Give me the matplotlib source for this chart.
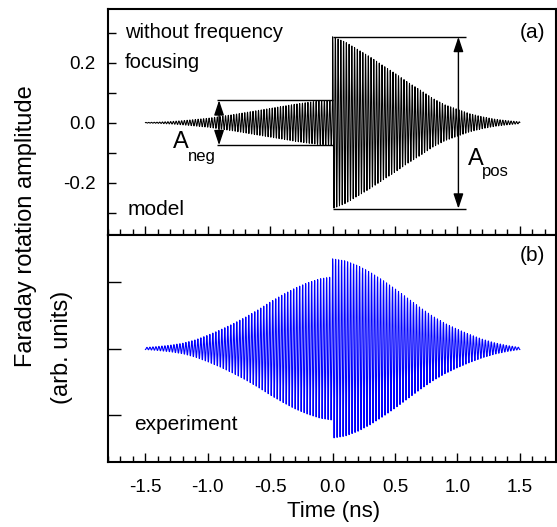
import numpy as np
import matplotlib
matplotlib.use('Agg')
import matplotlib.pyplot as plt
from matplotlib.ticker import MultipleLocator, FormatStrFormatter

plt.rcParams['font.family'] = ['Liberation Sans', 'DejaVu Sans']
plt.rcParams['axes.unicode_minus'] = False

# envelopes every 0.1 ns (before and after the jump at t=0)
t_neg = [-1.5, -1.4, -1.3, -1.2, -1.1, -1.0, -0.9, -0.8, -0.7, -0.6,
         -0.5, -0.4, -0.3, -0.2, -0.1, 0.0]
t_pos = [0.0, 0.1, 0.2, 0.3, 0.4, 0.5, 0.6, 0.7, 0.8, 0.9,
         1.0, 1.1, 1.2, 1.3, 1.4, 1.5]

model_neg = [0.001, 0.002, 0.004, 0.007, 0.011, 0.015, 0.021, 0.027, 0.034, 0.041,
             0.048, 0.055, 0.062, 0.068, 0.073, 0.075]
model_pos = [0.287, 0.270, 0.245, 0.220, 0.192, 0.165, 0.136, 0.110, 0.082, 0.060,
             0.045, 0.030, 0.020, 0.012, 0.007, 0.003]

expt_neg = [0.015, 0.03, 0.05, 0.08, 0.13, 0.20, 0.28, 0.37, 0.47, 0.58,
            0.70, 0.81, 0.91, 0.99, 1.05, 1.08]
expt_pos = [1.35, 1.32, 1.25, 1.15, 1.03, 0.90, 0.76, 0.62, 0.49, 0.38,
            0.29, 0.21, 0.14, 0.085, 0.045, 0.015]

period_model = 0.022  # ns, oscillation period
period_expt = 0.024

x_ticks = [-1.5, -1.0, -0.5, 0.0, 0.5, 1.0, 1.5]


def trace(env_neg, env_pos, period):
    dt = period / 16
    tn = np.arange(-1.5, 0, dt)
    tp = np.arange(0, 1.5 + dt / 2, dt)
    t = np.concatenate([tn, tp])
    env = np.concatenate([np.interp(tn, t_neg, env_neg), np.interp(tp, t_pos, env_pos)])
    return t, env * np.cos(2 * np.pi * t / period)


fig = plt.figure(figsize=(5.57, 5.27), dpi=100)
ax1 = fig.add_axes([108 / 557, 1 - 235 / 527, 448 / 557, 226 / 527])
ax2 = fig.add_axes([108 / 557, 1 - 462 / 527, 448 / 557, 227 / 527])

t, y = trace(model_neg, model_pos, period_model)
ax1.plot(t, y, color='black', lw=0.75)
t, y = trace(expt_neg, expt_pos, period_expt)
ax2.plot(t, y, color='#0000ff', lw=0.8)

for ax in (ax1, ax2):
    ax.set_xlim(-1.8, 1.79)
    ax.set_xticks(x_ticks)
    ax.xaxis.set_minor_locator(MultipleLocator(0.1))
    ax.xaxis.set_major_formatter(FormatStrFormatter('%.1f'))
    ax.tick_params(which='both', direction='in', top=False, right=False, width=1.0,
                   labelsize=13.5, pad=12)
    ax.tick_params(axis='x', which='major', length=6.5)
    ax.tick_params(axis='x', which='minor', length=4)
    for s in ax.spines.values():
        s.set_linewidth(1.5)

ax1.set_ylim(-0.375, 0.38)
ax1.yaxis.set_major_locator(MultipleLocator(0.2))
ax1.yaxis.set_minor_locator(MultipleLocator(0.1))
ax1.yaxis.set_major_formatter(FormatStrFormatter('%.1f'))
ax1.tick_params(axis='y', which='both', length=6, pad=9)
ax1.tick_params(axis='x', labelbottom=False)

ax2.set_ylim(-1.71, 1.71)
ax2.set_yticks([-1, 0, 1])
ax2.tick_params(axis='y', length=9, labelleft=False)

# A_neg and A_pos markers
a_neg = model_neg[-1]
a_pos = model_pos[0]
arrow = dict(arrowstyle='<|-|>,head_length=0.45,head_width=0.15', color='black',
             lw=1.0, shrinkA=0, shrinkB=0, mutation_scale=20)
ax1.hlines([a_neg, -a_neg], -0.93, 0, color='black', lw=1.0)
ax1.annotate('', xy=(-0.91, -a_neg), xytext=(-0.91, a_neg), arrowprops=arrow)
ax1.hlines([a_pos, -a_pos], 0, 1.066, color='black', lw=1.0)
ax1.annotate('', xy=(1.008, -a_pos), xytext=(1.008, a_pos), arrowprops=arrow)

ax1.text(-1.282, -0.083, 'A', fontsize=17, va='baseline')
ax1.text(-1.16, -0.127, 'neg', fontsize=12, va='baseline')
ax1.text(1.082, -0.14, 'A', fontsize=17, va='baseline')
ax1.text(1.196, -0.177, 'pos', fontsize=12, va='baseline')

ax1.text(-1.667, 0.283, 'without frequency', fontsize=14.5, va='baseline')
ax1.text(-1.667, 0.183, 'focusing', fontsize=14.5, va='baseline')
ax1.text(-1.643, -0.307, 'model', fontsize=15, va='baseline')
ax1.text(1.70, 0.283, '(a)', fontsize=15, va='baseline', ha='right')

ax2.text(1.70, 1.323, '(b)', fontsize=15, va='baseline', ha='right')
ax2.text(-1.587, -1.233, 'experiment', fontsize=15, va='baseline')

fig.text(26 / 557, 1 - 226 / 527, 'Faraday rotation amplitude', rotation=90,
         ha='center', va='center', fontsize=17)
fig.text(62 / 557, 1 - 347 / 527, '(arb. units)', rotation=90,
         ha='center', va='center', fontsize=17)
fig.text(334 / 557, 1 - 511 / 527, 'Time (ns)', ha='center', va='center', fontsize=16)

fig.savefig('out.png', dpi=100)
